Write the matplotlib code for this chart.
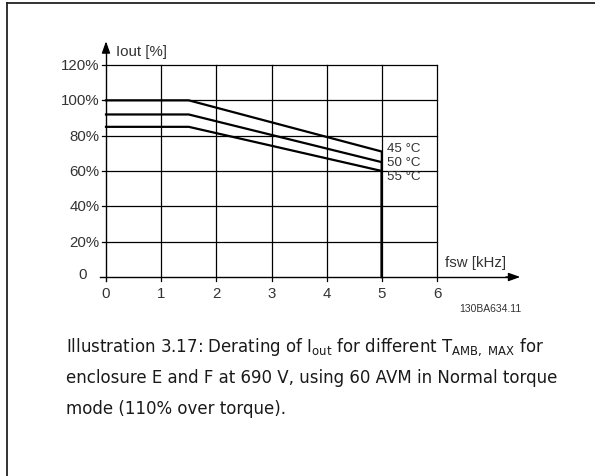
import matplotlib
matplotlib.use("Agg")
import matplotlib.pyplot as plt
from matplotlib.lines import Line2D

# Data
fsw_points = [0, 1.5, 5, 5]
series_labels = ["45 °C", "50 °C", "55 °C"]
iout_45 = [100, 100, 71, 0]
iout_50 = [92, 92, 65, 0]
iout_55 = [85, 85, 60, 0]
series = [iout_45, iout_50, iout_55]
x_ticks = [0, 1, 2, 3, 4, 5, 6]
y_ticks = [0, 20, 40, 60, 80, 100, 120]
y_ticklabels = ["0", "20%", "40%", "60%", "80%", "100%", "120%"]

W, H = 595, 477
fig = plt.figure(figsize=(W / 100, H / 100), dpi=100)
fig.patch.set_facecolor("white")

chart_font = "Liberation Sans"
ax = fig.add_axes([106 / W, 1 - 278 / H, (437 - 106) / W, (278 - 66) / H])
ax.set_xlim(0, 6)
ax.set_ylim(0, 120)
for s in ax.spines.values():
    s.set_visible(False)
ax.set_facecolor("none")

# grid
for yv in y_ticks[1:]:
    ax.plot([-0.08, 6], [yv, yv], color="black", lw=0.9, clip_on=False)
for xv in x_ticks[1:]:
    ax.plot([xv, xv], [-2.5, 120], color="black", lw=0.9, clip_on=False)

# axes with arrows
ax.plot([-0.1, 7.35], [0, 0], color="black", lw=1.0, clip_on=False)
ax.plot([0, 0], [-2.5, 131], color="black", lw=1.0, clip_on=False)
ax.annotate("", xy=(7.56, 0), xytext=(7.2, 0),
            arrowprops=dict(arrowstyle="-|>,head_length=0.7,head_width=0.25", color="black", lw=1.0),
            annotation_clip=False)
ax.annotate("", xy=(0, 135), xytext=(0, 128),
            arrowprops=dict(arrowstyle="-|>,head_length=0.7,head_width=0.25", color="black", lw=1.0),
            annotation_clip=False)

# curves
for vals in series:
    ax.plot(fsw_points, vals, color="black", lw=1.6, clip_on=False, solid_joinstyle="miter")

ax.set_xticks([])
ax.set_yticks([])

tick_fs = 10.8
tc = "#333333"
for xv in x_ticks:
    ax.text(xv, -5.0, str(xv), ha="center", va="top", fontsize=tick_fs, family=chart_font, color=tc)
for yv, lab in zip(y_ticks, y_ticklabels):
    if yv == 0:
        ax.text(-0.35, 1.8, lab, ha="right", va="center", fontsize=tick_fs,
                family=chart_font, color=tc)
    else:
        ax.text(-0.12, yv, lab, ha="right", va="center", fontsize=tick_fs,
                family=chart_font, color=tc)

# temperature labels
label_y = [73, 65.3, 57]
for lab, yv in zip(series_labels, label_y):
    ax.text(5.1, yv, lab, ha="left", va="center", fontsize=9.6, family=chart_font, color=tc)

ax.text(0.18, 128, "Iout [%]", ha="left", va="center", fontsize=tick_fs, family=chart_font, color=tc)
ax.text(6.15, 8.5, "fsw [kHz]", ha="left", va="center", fontsize=tick_fs, family=chart_font, color=tc)
fig.text(521 / W, 1 - 309 / H, "130BA634.11", ha="right", va="center", fontsize=7.5,
         family=chart_font, color=tc)

# border
fig.add_artist(Line2D([7 / W, 1], [1 - 4 / H, 1 - 4 / H], color="#222222", lw=1.3))
fig.add_artist(Line2D([7 / W, 7 / W], [0, 1 - 4 / H], color="#222222", lw=1.3))

# caption
cap_fs = 12
cap_color = "#1a1a1a"
lines = [
    r"Illustration 3.17: Derating of I$_{\mathregular{out}}$ for different T$_{\mathregular{AMB,\ MAX}}$ for",
    "enclosure E and F at 690 V, using 60 AVM in Normal torque",
    "mode (110% over torque).",
]
for i, ln in enumerate(lines):
    fig.text(66 / W, 1 - (347 + 31 * i) / H, ln, ha="left", va="center", fontsize=cap_fs,
             family="DejaVu Sans", color=cap_color)

fig.savefig("out.png", dpi=100, facecolor="white")
